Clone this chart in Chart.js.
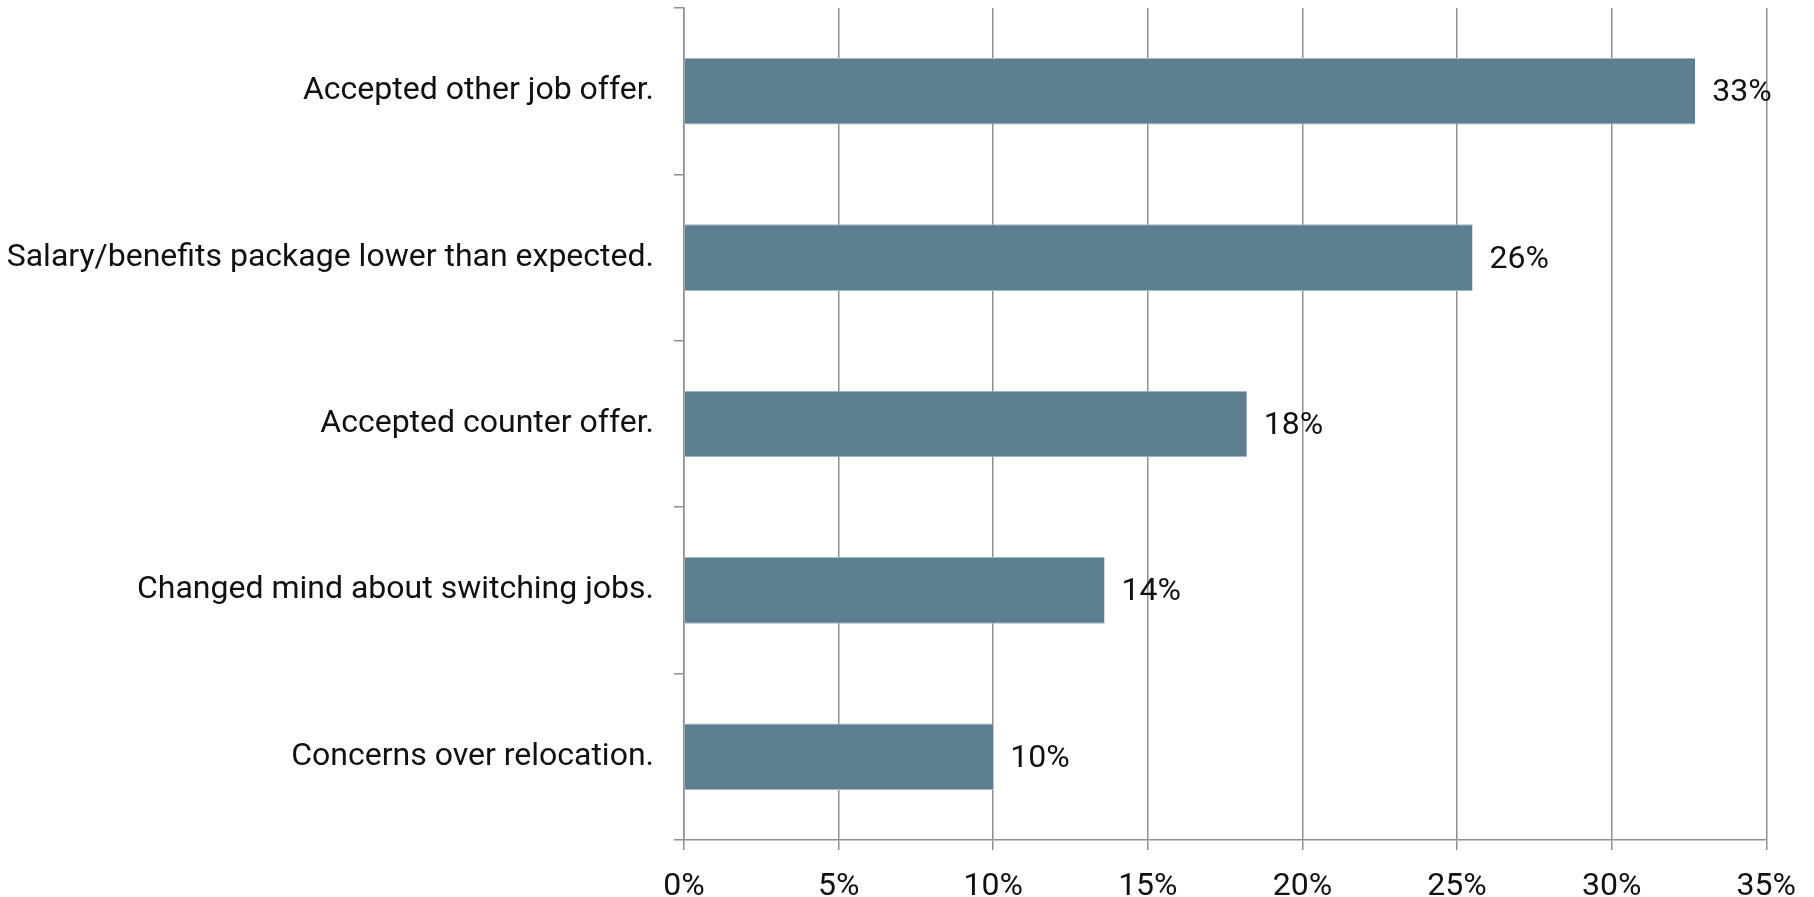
<!DOCTYPE html>
<html>
<head>
<meta charset="utf-8">
<script src="https://cdn.jsdelivr.net/npm/chart.js@4.4.1/dist/chart.umd.min.js"></script>
<style>
html, body { margin: 0; padding: 0; background: #fff; }
</style>
</head>
<body>
<canvas id="grafico" width="1814" height="897"></canvas>
<script>
// Datos del gráfico
const categorias = [
	'Accepted other job offer.',
	'Salary/benefits package lower than expected.',
	'Accepted counter offer.',
	'Changed mind about switching jobs.',
	'Concerns over relocation.',
];
const valores = [32.7, 25.5, 18.2, 13.6, 10.0];
const etiquetas = ['33%', '26%', '18%', '14%', '10%'];
const ticksX = [0, 5, 10, 15, 20, 25, 30, 35];

const gris = '#8f8f8f';
const fuente = { family: 'Roboto', size: 32, weight: '400' };

// Etiquetas al final de cada barra
const etiquetasBarras = {
	id: 'etiquetasBarras',
	afterDatasetsDraw(chart) {
		const ctx = chart.ctx;
		const meta = chart.getDatasetMeta(0);
		ctx.save();
		ctx.font = `${fuente.weight} ${fuente.size}px ${fuente.family}`;
		ctx.fillStyle = '#111';
		ctx.textAlign = 'left';
		ctx.textBaseline = 'middle';
		meta.data.forEach((bar, i) => {
			ctx.fillText(etiquetas[i], bar.x + 17, bar.y + 2);
		});
		ctx.restore();
	},
};

new Chart(document.getElementById('grafico'), {
	type: 'bar',
	data: {
		labels: categorias,
		datasets: [
			{
				data: valores,
				backgroundColor: '#5c7e90',
				borderColor: '#a3b6c1',
				borderWidth: { top: 1, bottom: 1, left: 0, right: 0 },
				barPercentage: 0.4,
				categoryPercentage: 1,
			},
		],
	},
	options: {
		indexAxis: 'y',
		responsive: false,
		animation: false,
		layout: { padding: { top: 8, right: 46, left: 0, bottom: 0 } },
		plugins: {
			legend: { display: false },
			tooltip: { enabled: false },
		},
		scales: {
			x: {
				min: 0,
				max: 35,
				afterBuildTicks: (scale) => {
					scale.ticks = ticksX.map((v) => ({ value: v }));
				},
				afterFit: (scale) => {
					scale.height = 57;
				},
				ticks: {
					callback: (v) => v + '%',
					font: fuente,
					color: '#111',
					padding: 18,
					maxRotation: 0,
				},
				grid: {
					color: gris,
					lineWidth: 1.5,
					tickLength: 10,
				},
				border: { color: gris, width: 1.5 },
			},
			y: {
				afterFit: (scale) => {
					scale.width = 684;
					scale.paddingTop = 0;
					scale.paddingBottom = 0;
				},
				ticks: {
					font: fuente,
					color: '#111',
					padding: 20,
				},
				grid: {
					offset: true,
					drawOnChartArea: false,
					color: gris,
					lineWidth: 1.5,
					tickLength: 10,
				},
				border: { color: gris, width: 1.5 },
			},
		},
	},
	plugins: [etiquetasBarras],
});
</script>
</body>
</html>
